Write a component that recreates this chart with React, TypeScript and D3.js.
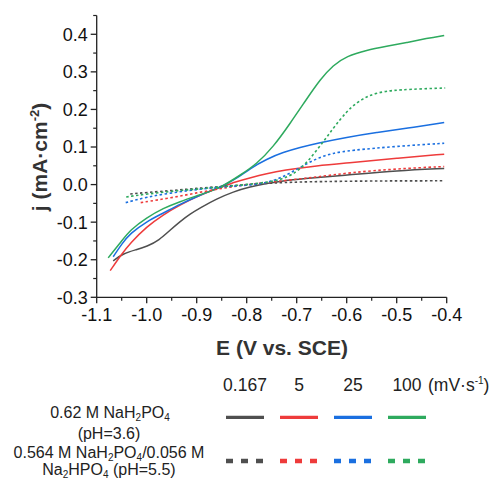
import React from "react";
import * as d3 from "d3";

type Pt = [number, number];

// Solid: 0.62 M NaH2PO4 (pH=3.6)
const solid0167: Pt[] = [[-1.067,-0.203],[-1.047,-0.183],[-1.02,-0.173],[-1.0,-0.165],[-0.975,-0.148],[-0.953,-0.121],[-0.933,-0.098],[-0.913,-0.078],[-0.893,-0.062],[-0.86,-0.038],[-0.827,-0.019],[-0.793,-0.006],[-0.76,0.003],[-0.727,0.01],[-0.693,0.015],[-0.593,0.026],[-0.5,0.037],[-0.405,0.043]];
const solid5: Pt[] = [[-1.073,-0.229],[-1.05,-0.185],[-1.033,-0.156],[-1.0,-0.112],[-0.967,-0.08],[-0.933,-0.054],[-0.9,-0.032],[-0.867,-0.014],[-0.85,-0.006],[-0.82,0.008],[-0.793,0.018],[-0.76,0.029],[-0.727,0.038],[-0.66,0.05],[-0.593,0.058],[-0.5,0.07],[-0.405,0.081]];
const solid25: Pt[] = [[-1.067,-0.192],[-1.05,-0.158],[-1.033,-0.13],[-1.0,-0.098],[-0.967,-0.076],[-0.933,-0.052],[-0.9,-0.032],[-0.867,-0.014],[-0.85,-0.005],[-0.82,0.016],[-0.793,0.043],[-0.76,0.068],[-0.727,0.086],[-0.693,0.099],[-0.66,0.11],[-0.6,0.126],[-0.54,0.139],[-0.48,0.15],[-0.405,0.165]];
const solid100: Pt[] = [[-1.077,-0.195],[-1.05,-0.15],[-1.033,-0.121],[-1.0,-0.088],[-0.967,-0.063],[-0.933,-0.045],[-0.9,-0.03],[-0.867,-0.015],[-0.85,-0.006],[-0.813,0.025],[-0.78,0.055],[-0.747,0.1],[-0.713,0.163],[-0.68,0.228],[-0.653,0.28],[-0.627,0.318],[-0.6,0.342],[-0.56,0.358],[-0.52,0.368],[-0.48,0.378],[-0.44,0.389],[-0.405,0.397]];

// Dotted: 0.564 M NaH2PO4/0.056 M Na2HPO4 (pH=5.5)
const dot0167: Pt[] = [[-1.033,-0.025],[-1.0,-0.021],[-0.95,-0.016],[-0.9,-0.01],[-0.85,-0.005],[-0.8,0.0],[-0.75,0.004],[-0.7,0.007],[-0.6,0.009],[-0.5,0.01],[-0.405,0.01]];
const dot5: Pt[] = [[-1.012,-0.048],[-0.95,-0.035],[-0.9,-0.022],[-0.85,-0.01],[-0.8,0.0],[-0.727,0.01],[-0.66,0.02],[-0.593,0.032],[-0.5,0.042],[-0.405,0.048]];
const dot25: Pt[] = [[-1.042,-0.048],[-1.0,-0.033],[-0.95,-0.022],[-0.9,-0.013],[-0.85,-0.006],[-0.8,-0.002],[-0.76,0.004],[-0.727,0.02],[-0.693,0.046],[-0.66,0.07],[-0.627,0.084],[-0.593,0.091],[-0.5,0.102],[-0.405,0.11]];
const dot100: Pt[] = [[-1.041,-0.033],[-1.0,-0.025],[-0.95,-0.018],[-0.9,-0.012],[-0.85,-0.006],[-0.8,0.0],[-0.76,0.006],[-0.727,0.014],[-0.693,0.038],[-0.66,0.09],[-0.627,0.15],[-0.6,0.195],[-0.58,0.218],[-0.56,0.234],[-0.54,0.244],[-0.513,0.25],[-0.493,0.252],[-0.45,0.255],[-0.403,0.257]];

const rates = ["0.167", "5", "25", "100"];
const colors = ["#4f4f4f", "#ee3b3b", "#1a6fe0", "#2eaa5e"];
const solidSeries = [solid0167, solid5, solid25, solid100];
const dotSeries = [dot0167, dot5, dot25, dot100];
const xTicks = [-1.1, -1.0, -0.9, -0.8, -0.7, -0.6, -0.5, -0.4];
const yTicks = [-0.3, -0.2, -0.1, 0.0, 0.1, 0.2, 0.3, 0.4];

const FONT = "Liberation Sans, Arial, sans-serif";

export default function App() {
  const x = d3.scaleLinear().domain([-1.1, -0.4]).range([96.7, 446.7]);
  const y = d3.scaleLinear().domain([-0.3, 0.45]).range([297.3, 15.5]);
  const line = d3
    .line<Pt>()
    .x((d) => x(d[0]))
    .y((d) => y(d[1]))
    .curve(d3.curveBasis);

  const xMinor = d3.range(-1.05, -0.4, 0.1);
  const yMinor = d3.range(-0.25, 0.46, 0.1);
  const axisColor = "#222";

  const legX = [245, 299, 353, 407];

  return (
    <svg width={492} height={480} style={{ position: "absolute", left: 0, top: 0 }} fontFamily={FONT}>
      <rect width={492} height={480} fill="#fff" />
      {/* curves */}
      {solidSeries.map((s, i) => (
        <path key={"s" + i} d={line(s) || ""} fill="none" stroke={colors[i]} strokeWidth={1.5} />
      ))}
      {dotSeries.map((s, i) => (
        <path key={"d" + i} d={line(s) || ""} fill="none" stroke={colors[i]} strokeWidth={1.6} strokeDasharray="2.5,2.5" />
      ))}
      {/* axes */}
      <line x1={x(-1.1)} x2={x(-1.1)} y1={y(0.45)} y2={y(-0.3)} stroke={axisColor} strokeWidth={1.3} />
      <line x1={x(-1.1)} x2={x(-0.4)} y1={y(-0.3)} y2={y(-0.3)} stroke={axisColor} strokeWidth={1.3} />
      {yTicks.map((t) => (
        <g key={"yt" + t}>
          <line x1={x(-1.1) - 6} x2={x(-1.1)} y1={y(t)} y2={y(t)} stroke={axisColor} strokeWidth={1.3} />
          <text x={x(-1.1) - 9} y={y(t)} dy="0.36em" textAnchor="end" fontSize={18} fill="#111">
            {d3.format(".1f")(t).replace("−", "-")}
          </text>
        </g>
      ))}
      {yMinor.map((t) => (
        <line key={"ym" + t} x1={x(-1.1) - 3.5} x2={x(-1.1)} y1={y(t)} y2={y(t)} stroke={axisColor} strokeWidth={1.2} />
      ))}
      {xTicks.map((t) => (
        <g key={"xt" + t}>
          <line x1={x(t)} x2={x(t)} y1={y(-0.3)} y2={y(-0.3) + 6} stroke={axisColor} strokeWidth={1.3} />
          <text x={x(t)} y={321} textAnchor="middle" fontSize={18} fill="#111">
            {d3.format(".1f")(t).replace("−", "-")}
          </text>
        </g>
      ))}
      {xMinor.map((t) => (
        <line key={"xm" + t} x1={x(t)} x2={x(t)} y1={y(-0.3)} y2={y(-0.3) + 3.5} stroke={axisColor} strokeWidth={1.2} />
      ))}
      {/* axis titles */}
      <text x={282} y={355} textAnchor="middle" fontSize={21} fontWeight="bold" fill="#333">
        E (V vs. SCE)
      </text>
      <text transform="translate(47,157) rotate(-90)" textAnchor="middle" fontSize={21} fontWeight="bold" fill="#333">
        j (mA·cm
        <tspan fontSize={13} dy={-8}>-2</tspan>
        <tspan dy={8}>)</tspan>
      </text>
      {/* legend header */}
      {rates.map((r, i) => (
        <text key={"lh" + i} x={legX[i]} y={391} textAnchor="middle" fontSize={17.5} fill="#222">
          {r}
        </text>
      ))}
      <text x={428} y={391} fontSize={17.5} fill="#222">
        (mV·s<tspan fontSize={10} dy={-7}>-1</tspan>
        <tspan dy={7}>)</tspan>
      </text>
      {/* legend rows */}
      {colors.map((c, i) => (
        <line key={"ls" + i} x1={legX[i] - 19} x2={legX[i] + 19} y1={417.3} y2={417.3} stroke={c} strokeWidth={3.2} />
      ))}
      {colors.map((c, i) => (
        <line key={"ld" + i} x1={legX[i] - 19} x2={legX[i] + 19} y1={461} y2={461} stroke={c} strokeWidth={4.5} strokeDasharray="7,8" />
      ))}
      <g fontSize={16} fill="#222" textAnchor="middle">
        <text x={110} y={418}>
          0.62 M NaH<tspan fontSize={10} dy={3}>2</tspan>
          <tspan dy={-3}>PO</tspan>
          <tspan fontSize={10} dy={3}>4</tspan>
        </text>
        <text x={109} y={439}>(pH=3.6)</text>
        <text x={109} y={458}>
          0.564 M NaH<tspan fontSize={10} dy={3}>2</tspan>
          <tspan dy={-3}>PO</tspan>
          <tspan fontSize={10} dy={3}>4</tspan>
          <tspan dy={-3}>/0.056 M</tspan>
        </text>
        <text x={109} y={475}>
          Na<tspan fontSize={10} dy={3}>2</tspan>
          <tspan dy={-3}>HPO</tspan>
          <tspan fontSize={10} dy={3}>4</tspan>
          <tspan dy={-3}> (pH=5.5)</tspan>
        </text>
      </g>
    </svg>
  );
}
